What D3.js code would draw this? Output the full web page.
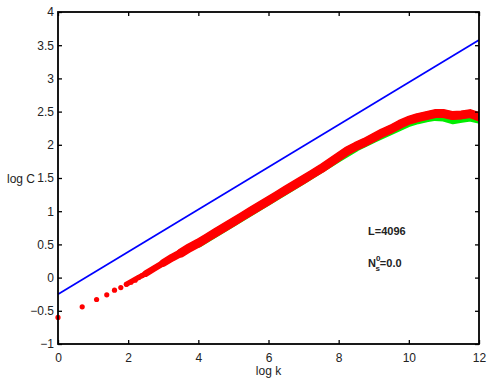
<!DOCTYPE html>
<html>
<head>
<meta charset="utf-8">
<script src="https://cdn.jsdelivr.net/npm/d3@7"></script>
<style>
  body { margin: 0; background: #fff; }
  text { font-family: "Liberation Sans", Arial, sans-serif; fill: #222; }
</style>
</head>
<body>
<div id="chart"></div>
<script>
var svgWidth = 491;
var svgHeight = 383;

var margin = { top: 12, right: 12, bottom: 39, left: 58 };
var width = svgWidth - margin.left - margin.right;
var height = svgHeight - margin.top - margin.bottom;

// axis ticks
var xTicks = [0, 2, 4, 6, 8, 10, 12];
var yTicks = [-1, -0.5, 0, 0.5, 1, 1.5, 2, 2.5, 3, 3.5, 4];

// reference line (blue)
var fitX = [0, 12];
var fitY = [-0.25, 3.58];

// first few isolated points (red dots)
var dotX = [0, 0.69, 1.10, 1.39, 1.61, 1.79, 1.95, 2.08, 2.20, 2.30, 2.40, 2.48];
var dotY = [-0.60, -0.44, -0.33, -0.26, -0.19, -0.15, -0.10, -0.07, -0.04, 0.00, 0.03, 0.05];

// red series where the dots merge into a band
var redX = [1.95, 2.25, 2.5, 2.75, 3.0, 3.25, 3.5, 3.75, 4.0, 4.25, 4.5, 4.75, 5.0, 5.25, 5.5, 5.75,
            6.0, 6.25, 6.5, 6.75, 7.0, 7.25, 7.5, 7.75, 8.0, 8.25, 8.5, 8.75, 9.0, 9.25,
            9.5, 9.75, 10.0, 10.25, 10.5, 10.75, 11.0, 11.25, 11.5, 11.75, 12.0];
var redY = [-0.10, -0.01, 0.06, 0.14, 0.22, 0.30, 0.37, 0.45, 0.52, 0.60, 0.68, 0.76, 0.84, 0.92, 1.00, 1.08,
            1.16, 1.24, 1.32, 1.40, 1.48, 1.56, 1.64, 1.73, 1.82, 1.91, 1.98, 2.04, 2.11, 2.18,
            2.24, 2.31, 2.37, 2.41, 2.44, 2.47, 2.47, 2.44, 2.45, 2.47, 2.42];

// green series, mostly hidden under the red one
var greenX = [4.0, 5.0, 6.0, 7.0, 8.0, 8.5, 9.0, 9.5, 9.75, 10.0, 10.25, 10.5, 10.75, 11.0, 11.25, 11.5, 11.75, 12.0];
var greenY = [0.51, 0.83, 1.15, 1.47, 1.80, 1.96, 2.09, 2.21, 2.27, 2.33, 2.37, 2.40, 2.42, 2.41, 2.37, 2.39, 2.41, 2.38];

var svg = d3.select("#chart")
  .append("svg")
  .attr("width", svgWidth)
  .attr("height", svgHeight);

svg.append("rect")
  .attr("width", svgWidth)
  .attr("height", svgHeight)
  .attr("fill", "#fff");

var chartGroup = svg.append("g")
  .attr("transform", `translate(${margin.left}, ${margin.top})`);

var xScale = d3.scaleLinear().domain([0, 12]).range([0, width]);
var yScale = d3.scaleLinear().domain([-1, 4]).range([height, 0]);

function fmt(d) {
  return d < 0 ? "\u2212" + Math.abs(d) : String(d);
}

// clip for the data
chartGroup.append("clipPath")
  .attr("id", "clip")
  .append("rect")
  .attr("x", -6).attr("y", 0)
  .attr("width", width + 6).attr("height", height);

var plot = chartGroup.append("g").attr("clip-path", "url(#clip)");

var line = d3.line()
  .x(d => xScale(d[0]))
  .y(d => yScale(d[1]));

// draw part of a series (x >= from) as a thick stroke
function band(xs, ys, from, color, w) {
  var pts = d3.zip(xs, ys).filter(d => d[0] >= from);
  plot.append("path")
    .datum(pts)
    .attr("d", line)
    .attr("fill", "none")
    .attr("stroke", color)
    .attr("stroke-width", w)
    .attr("stroke-linecap", "round")
    .attr("stroke-linejoin", "round");
}

band(greenX, greenY, 0, "#00ee00", 8);
// the band gets wider as the points pile up
band(redX, redY, 1.95, "#ff0000", 5.2);
band(redX, redY, 2.5, "#ff0000", 6.5);
band(redX, redY, 3.0, "#ff0000", 7.8);
band(redX, redY, 3.5, "#ff0000", 9);

// red isolated dots
plot.selectAll("circle.dot")
  .data(d3.zip(dotX, dotY))
  .enter()
  .append("circle")
  .attr("class", "dot")
  .attr("cx", d => xScale(d[0]))
  .attr("cy", d => yScale(d[1]))
  .attr("r", 2.6)
  .attr("fill", "#ff0000");

// blue line
plot.append("path")
  .datum(d3.zip(fitX, fitY))
  .attr("d", line)
  .attr("fill", "none")
  .attr("stroke", "#0000ff")
  .attr("stroke-width", 1.7);

// axes, ticks pointing inwards
var bottomAxis = d3.axisBottom(xScale).tickValues(xTicks).tickSizeInner(-4).tickSizeOuter(0).tickPadding(9).tickFormat(fmt);
var leftAxis = d3.axisLeft(yScale).tickValues(yTicks).tickSizeInner(-4).tickSizeOuter(0).tickPadding(4).tickFormat(fmt);
var topAxis = d3.axisTop(xScale).tickValues(xTicks).tickSizeInner(-4).tickSizeOuter(0).tickFormat("");
var rightAxis = d3.axisRight(yScale).tickValues(yTicks).tickSizeInner(-4).tickSizeOuter(0).tickFormat("");

var axes = [
  chartGroup.append("g").attr("transform", `translate(0, ${height})`).call(bottomAxis),
  chartGroup.append("g").call(leftAxis),
  chartGroup.append("g").call(topAxis),
  chartGroup.append("g").attr("transform", `translate(${width}, 0)`).call(rightAxis)
];
axes.forEach(function(a) {
  a.select(".domain").remove();
  a.selectAll("line").attr("stroke", "#000").attr("stroke-width", 1.3);
  a.selectAll("text").attr("font-size", 12).attr("fill", "#222")
    .style("font-family", "'Liberation Sans', Arial, sans-serif");
});

// frame
chartGroup.append("rect")
  .attr("width", width)
  .attr("height", height)
  .attr("fill", "none")
  .attr("stroke", "#000")
  .attr("stroke-width", 1.8);

// axis labels
svg.append("text")
  .attr("x", margin.left + xScale(6))
  .attr("y", 375)
  .attr("text-anchor", "middle")
  .attr("font-size", 12)
  .text("log k");

svg.append("text")
  .attr("x", 7)
  .attr("y", 183)
  .attr("font-size", 12)
  .text("log C");

// annotations
svg.append("text")
  .attr("x", 368)
  .attr("y", 235)
  .attr("font-size", 11)
  .attr("font-weight", "bold")
  .text("L=4096");

var ns = svg.append("text")
  .attr("x", 368)
  .attr("y", 267)
  .attr("font-size", 11)
  .attr("font-weight", "bold");
ns.append("tspan").text("N");
ns.append("tspan").attr("font-size", 8).attr("dy", -6).text("0");
ns.append("tspan").attr("font-size", 8).attr("dx", -5).attr("dy", 10).text("s");
ns.append("tspan").attr("dy", -4).text("=0.0");
</script>
</body>
</html>
